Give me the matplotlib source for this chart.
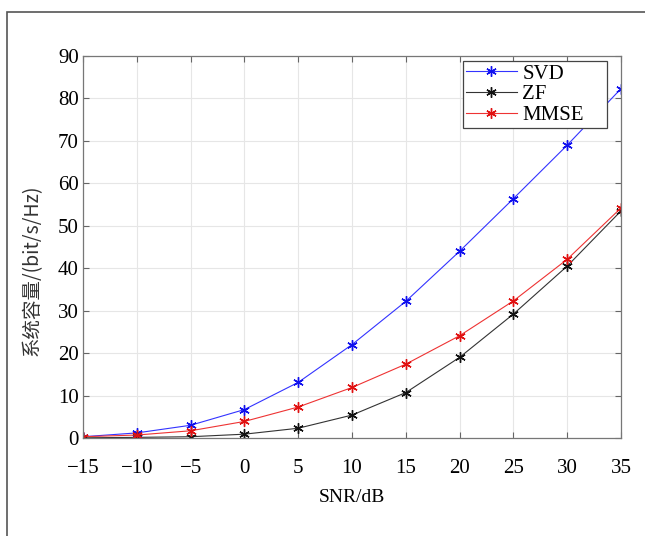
import matplotlib.pyplot as plt
from matplotlib.patches import Rectangle

# SNR sweep and capacity of each detector
snr_db = [-15, -10, -5, 0, 5, 10, 15, 20, 25, 30, 35]
svd_cap = [0.3, 1.2, 3.0, 6.7, 13.1, 22.0, 32.2, 44.0, 56.4, 69.0, 82.3]
zf_cap = [0.05, 0.15, 0.3, 0.9, 2.3, 5.4, 10.7, 19.0, 29.2, 40.5, 53.5]
mmse_cap = [0.3, 0.7, 1.7, 3.9, 7.3, 11.9, 17.4, 24.1, 32.3, 42.1, 54.2]

x_ticks = [-15, -10, -5, 0, 5, 10, 15, 20, 25, 30, 35]
y_ticks = [0, 10, 20, 30, 40, 50, 60, 70, 80, 90]

plt.rcParams['font.family'] = ['Liberation Serif', 'Noto Sans CJK SC']
plt.rcParams['axes.unicode_minus'] = True

fig = plt.figure(figsize=(6.45, 5.36), dpi=100)

# outer frame around the figure panel
fig.patches.append(Rectangle((7 / 645, -0.1), 1.2, (536 - 12) / 536 + 0.1,
                             transform=fig.transFigure, fill=False,
                             edgecolor='#555555', linewidth=1.2))

ax = fig.add_axes([83 / 645, 98 / 536, 538 / 645, 382 / 536])

star = (6, 2, 0)
ax.plot(snr_db, svd_cap, color='#3333ff', marker=star, markersize=7.5,
        markeredgewidth=1.0, markeredgecolor='#1010ee', linewidth=0.8, label='SVD')
ax.plot(snr_db, zf_cap, color='#333333', marker=star, markersize=7.5,
        markeredgewidth=1.0, markeredgecolor='#111111', linewidth=0.8, label='ZF')
ax.plot(snr_db, mmse_cap, color='#ee3333', marker=star, markersize=7.5,
        markeredgewidth=1.0, markeredgecolor='#e01010', linewidth=0.8, label='MMSE')

ax.set_xlim(-15, 35)
ax.set_ylim(0, 90)
ax.set_xticks(x_ticks)
ax.set_yticks(y_ticks)
ax.set_xticklabels([str(v).replace('-', '\u2212') for v in x_ticks])
ax.tick_params(direction='in', top=True, right=True, labelsize=15,
               color='#666666', length=4)
ax.tick_params(axis='x', pad=15)
ax.tick_params(axis='y', pad=3)
ax.grid(True, color='#e6e6e6', linewidth=0.8)
ax.set_axisbelow(True)
for s in ax.spines.values():
    s.set_color('#777777')
    s.set_linewidth(0.9)

ax.set_xlabel('SNR/dB', fontsize=14, labelpad=8)
ax.set_ylabel('系统容量/(bit/s/Hz)', fontsize=14,
              family=['Noto Sans CJK SC', 'Liberation Serif'], color='#333333')
ax.yaxis.set_label_coords(-40 / 538, 0.44)

leg = ax.legend(loc='upper left', bbox_to_anchor=(0.706, 0.814, 0.268, 0.173),
                mode='expand', fontsize=15, fancybox=False, framealpha=1,
                edgecolor='#444444', handlelength=2.45, borderpad=0.15,
                labelspacing=0.05, handletextpad=0.25, borderaxespad=0)
leg.get_frame().set_linewidth(0.9)

fig.savefig('out.png', dpi=100)
